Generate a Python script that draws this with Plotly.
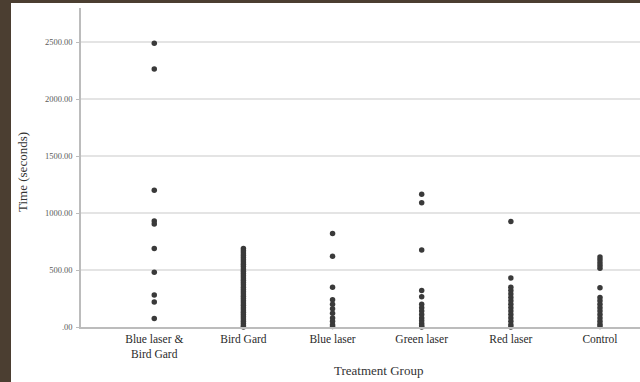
import plotly.graph_objects as go

categories = ["Blue laser & Bird Gard", "Bird Gard", "Blue laser", "Green laser", "Red laser", "Control"]
tick_labels = ["Blue laser &<br>Bird Gard", "Bird Gard", "Blue laser", "Green laser", "Red laser", "Control"]

blue_bird = [2490, 2265, 1200, 930, 905, 690, 480, 280, 220, 75]
bird_gard = [690, 670, 650, 630, 610, 590, 570, 550, 530, 510, 490, 470, 450, 430, 410, 390,
             370, 350, 330, 310, 290, 270, 250, 230, 210, 190, 170, 150, 130, 110, 90, 70, 50, 30, 10, 0]
blue_laser = [820, 620, 350, 240, 200, 160, 120, 80, 50, 20, 5]
green_laser = [1165, 1090, 675, 320, 265, 200, 170, 140, 110, 80, 55, 30, 10, 0]
red_laser = [925, 430, 350, 320, 290, 260, 230, 200, 170, 140, 110, 80, 50, 20, 0]
control = [615, 590, 565, 540, 515, 345, 260, 230, 200, 170, 140, 110, 80, 50, 25, 5]

y_tickvals = [0, 500, 1000, 1500, 2000, 2500]
y_ticktext = [".00", "500.00", "1000.00", "1500.00", "2000.00", "2500.00"]

series = [blue_bird, bird_gard, blue_laser, green_laser, red_laser, control]

xs, ys = [], []
for cat, vals in zip(categories, series):
    xs += [cat] * len(vals)
    ys += vals

fig = go.Figure()
fig.add_trace(go.Scatter(
    x=xs, y=ys, mode="markers",
    marker=dict(size=5.5, color="#3a3a3a", line=dict(width=0)),
    showlegend=False, cliponaxis=False,
))

W, H = 640, 382
ml, mr, mt, mb = 81, 0, 8, 55
pw, ph = W - ml - mr, H - mt - mb

def px(p):
    return (p - ml) / pw

def py(p):
    return (H - mb - p) / ph

brown = "#4b3e31"
serif = "Liberation Serif, Times New Roman, serif"

fig.update_layout(
    width=W, height=H, autosize=False,
    margin=dict(l=ml, r=mr, t=mt, b=mb, pad=0),
    paper_bgcolor="white", plot_bgcolor="white",
    font=dict(family=serif, color="#333333"),
    xaxis=dict(
        type="category", categoryorder="array", categoryarray=categories,
        range=[-0.822, 5.449],
        tickmode="array", tickvals=categories, ticktext=tick_labels,
        tickfont=dict(size=11.5, color="#2a2a2a", family=serif),
        showgrid=False, zeroline=False,
        showline=True, linecolor="#bcbcbc", linewidth=1.5,
        ticks="", ticklabelstandoff=0,
    ),
    yaxis=dict(
        range=[0, 2800],
        tickmode="array", tickvals=y_tickvals, ticktext=y_ticktext,
        tickfont=dict(size=8.5, color="#5a5a5a", family=serif),
        showgrid=True, gridcolor="#e4e4e4", gridwidth=1.5,
        zeroline=False,
        showline=True, linecolor="#bcbcbc", linewidth=1.5,
        ticks="outside", ticklen=3, tickcolor="#bcbcbc",
        ticklabelstandoff=2,
    ),
    shapes=[
        dict(type="rect", xref="paper", yref="paper",
             x0=px(0), x1=px(11), y0=py(H), y1=py(0),
             fillcolor=brown, line=dict(width=0), layer="above"),
        dict(type="rect", xref="paper", yref="paper",
             x0=px(0), x1=px(W), y0=py(3), y1=py(0),
             fillcolor=brown, line=dict(width=0), layer="above"),
    ],
    annotations=[
        dict(text="Treatment Group", xref="paper", yref="paper",
             x=px(378), y=py(370), showarrow=False,
             font=dict(size=13, color="#333333", family=serif),
             xanchor="center", yanchor="middle"),
        dict(text="Time (seconds)", xref="paper", yref="paper",
             x=px(22), y=py(172), showarrow=False, textangle=-90,
             font=dict(size=13, color="#333333", family=serif),
             xanchor="center", yanchor="middle"),
    ],
)

fig.write_html(
    "out.html",
    config={"displayModeBar": False},
    post_script="document.body.style.margin='0';document.body.style.padding='0';document.body.style.overflow='hidden';",
)
